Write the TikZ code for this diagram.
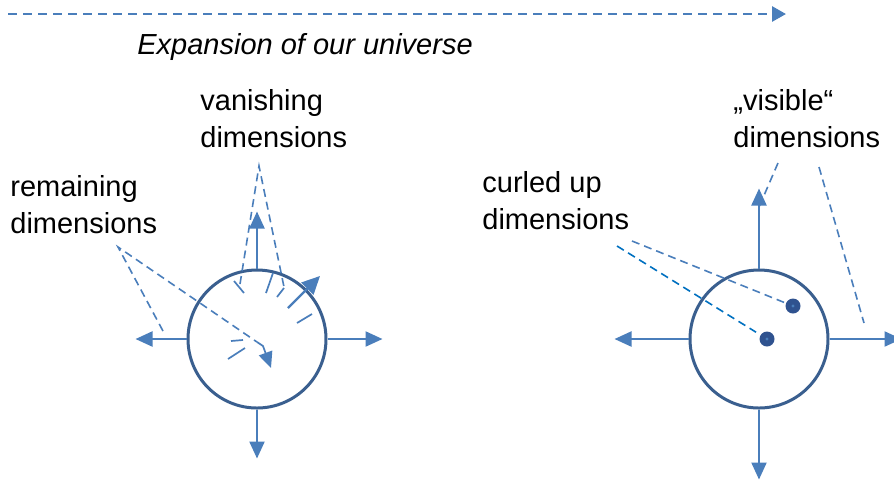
\documentclass[tikz,border=0pt]{standalone}
\usepackage{fontspec}
\setmainfont{Liberation Sans}
\usetikzlibrary{arrows.meta}
\definecolor{dimblue}{HTML}{4A7EBB}
\definecolor{rimblue}{HTML}{3A5F8F}
\definecolor{dotblue}{HTML}{2F528F}
\definecolor{deepblue}{HTML}{0070C0}
\tikzset{axarrow/.style={-{Triangle[length=8.5pt,width=7.5pt]}, line width=1.1pt, color=dimblue}, ball/.style={circle, draw=rimblue, line width=1.5pt, minimum size=69pt, inner sep=0pt}, pointer/.style={dash pattern=on 4pt off 2.5pt, line width=.8pt, color=dimblue}, hair/.style={line width=.85pt, color=dimblue}, lbl/.style={font=\fontsize{14.5pt}{18.5pt}\selectfont, align=left, anchor=west, inner sep=0pt}, knot/.style={circle, fill=dotblue, minimum size=7.5pt, inner sep=0pt}}

\begin{document}
\begin{tikzpicture}[x=0.5pt, y=-0.5pt]
\useasboundingbox (0,0) rectangle (894,479);
% expansion arrow
\coordinate (t0) at (8,14); \coordinate (t1) at (786,14);
\draw[dimblue, line width=1.4pt, dash pattern=on 4.5pt off 3pt, -{Triangle[length=7pt,width=7.5pt]}] (t0) -- (t1);
\node[lbl, font=\fontsize{14.5pt}{18.5pt}\selectfont\itshape] (exp) at (137,47) {Expansion of our universe};
% labels
\node[lbl] (van) at (200,119) {vanishing\\dimensions};
\node[lbl] (rem) at (10,205) {remaining\\dimensions};
\node[lbl] (cur) at (482,201) {curled up\\dimensions};
\node[lbl] (vis) at (733,119) {„visible“\\dimensions};
% early universe
\node[ball] (L) at (257,339) {};
\draw[axarrow] (L.north) -- ++(0,-57); \draw[axarrow] (L.east) -- ++(55,0);
\draw[axarrow] (L.west) -- ++(-51,0); \draw[axarrow] (L.south) -- ++(0,49);
\foreach \a/\b in {{(234,281)}/{(244,293)}, {(266,293)}/{(273,273)}, {(277,297)}/{(284,288)}, {(297,323)}/{(312,314)}, {(231,341)}/{(243,340)}, {(228,359)}/{(245,348)}}{\draw[hair] \a -- \b;}
\coordinate (d0) at (288,308); \coordinate (d1) at (320,276);
\draw[axarrow, -{Triangle[length=9pt,width=8.5pt]}] (d0) -- (d1);
\coordinate (vantop) at (259,166); \coordinate (van1) at (240,284); \coordinate (van2) at (284,287);
\draw[pointer] (van1) -- (vantop) -- (van2);
\coordinate (remtop) at (118,247); \coordinate (rem1) at (163,331); \coordinate (rembend) at (257,342); \coordinate (remkink) at (263,346); \coordinate (remend) at (271,368);
\draw[pointer] (rem1) -- (remtop) -- (rembend);
\draw[hair, -{Triangle[length=8pt,width=7pt]}] (rembend) -- (remkink) -- (remend);
% today
\node[ball] (R) at (759,339) {};
\draw[axarrow] (R.north) -- ++(0,-80); \draw[axarrow] (R.east) -- ++(72,0);
\draw[axarrow] (R.west) -- ++(-74,0); \draw[axarrow] (R.south) -- ++(0,70);
\node[knot] (k1) at (793,306) {}; \node[knot] (k2) at (767,339) {};
\fill[dimblue] (k1) circle (1.6); \fill[dimblue] (k2) circle (1.6);
\coordinate (cur1) at (632,241); \coordinate (cur2) at (617,246);
\draw[pointer] (cur1) -- (k1); \draw[pointer, deepblue, shorten >=2.5pt] (cur2) -- (k2);
\coordinate (vis1) at (778,163); \coordinate (vis1e) at (759,207); \coordinate (vis2) at (819,167); \coordinate (vis2e) at (864,323);
\draw[pointer] (vis1) -- (vis1e); \draw[pointer] (vis2) -- (vis2e);
\end{tikzpicture}
\end{document}
